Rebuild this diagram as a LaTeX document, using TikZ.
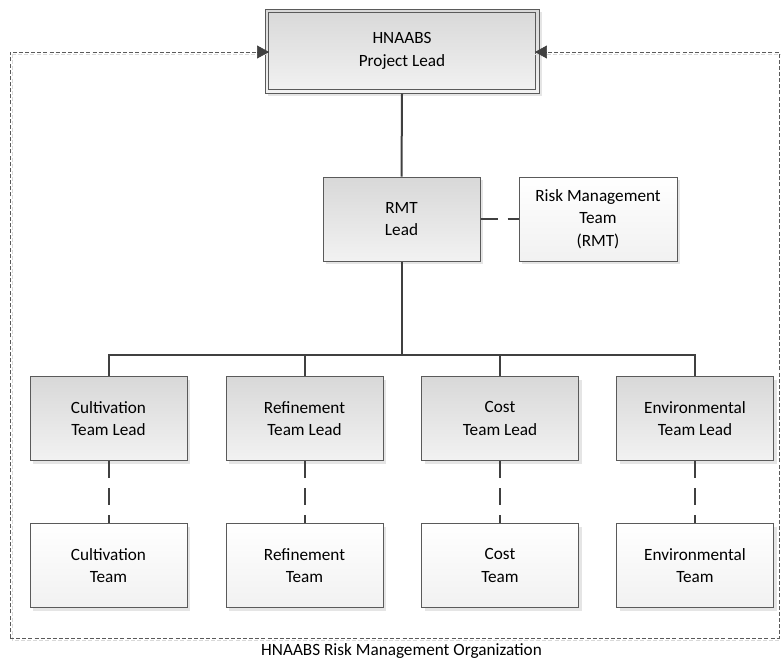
\documentclass[tikz,border=0pt]{standalone}
\usepackage{fontspec}
\setmainfont{Carlito}
\usetikzlibrary{shadows,arrows.meta}
\definecolor{bordergray}{HTML}{5A5A5A}
\definecolor{linegray}{HTML}{404040}
\definecolor{leadtop}{HTML}{D8D8D8}
\definecolor{leadbot}{HTML}{F2F2F2}
\definecolor{teamtop}{HTML}{FFFFFF}
\definecolor{teambot}{HTML}{F1F1F1}
\tikzset{
  boxbase/.style={draw=bordergray, line width=0.75pt, align=center,
    font=\fontsize{12.9pt}{17pt}\selectfont, inner sep=0pt,
    minimum height=63pt,
    drop shadow={shadow xshift=2.25pt, shadow yshift=-2.25pt, opacity=1, fill=black!10}},
  leadbox/.style={boxbase, top color=leadtop, bottom color=leadbot, minimum width=117.75pt},
  teambox/.style={boxbase, top color=teamtop, bottom color=teambot, minimum width=117.75pt},
  solidlink/.style={draw=linegray, line width=1.5pt},
  dashlink/.style={draw=linegray, line width=1.5pt, dash pattern=on 12.75pt off 7.5pt},
  framelink/.style={draw=bordergray, line width=0.75pt, dash pattern=on 3pt off 1.6pt},
  frameshadow/.style={draw=black!15, line width=0.75pt, dash pattern=on 3pt off 1.6pt},
  tip/.style={-{Triangle[length=9pt, width=9.75pt]}, color=linegray}
}
\begin{document}
\begin{tikzpicture}[x=0.75pt, y=-0.75pt]
\useasboundingbox (0,0) rectangle (781,661);

% frame corners
\coordinate (ftl) at (10,52);
\coordinate (fbl) at (10,638);
\coordinate (fbr) at (779,638);
\coordinate (ftr) at (779,52);

% project lead
\node[leadbox, minimum width=205.5pt] (pl) at (402,51) {HNAABS\\Project Lead};
\draw[draw=bordergray, line width=0.75pt] ([xshift=3pt, yshift=-3pt]pl.north west) rectangle ([xshift=-3pt, yshift=3pt]pl.south east);
\coordinate (plw) at ([xshift=3.4pt]pl.west);
\coordinate (ple) at ([xshift=-3.4pt]pl.east);

% frame shadow
\draw[frameshadow] ([shift={(2,2)}]ftl) -- ([shift={(2,2)}]fbl) -- ([shift={(2,2)}]fbr) -- ([shift={(2,2)}]ftr) -- ([shift={(0,2)}]ftr -| ple);
\draw[frameshadow] ([shift={(2,2)}]ftl) -- ([shift={(0,2)}]ftl -| plw);
% frame
\draw[framelink] (fbl) -- (ftl) -- (ftl -| plw);
\draw[tip] ([xshift=-1pt]ftl -| plw) -- (ftl -| plw);
\draw[framelink] (fbl) -- (fbr) -- (ftr) -- (ftr -| ple);
\draw[tip] ([xshift=1pt]ftr -| ple) -- (ftr -| ple);

% RMT
\node[leadbox] (rmt) at (401.5,219) {RMT\\Lead};
\node[teambox, minimum width=118.5pt] (rmtteam) at (598,219) {Risk Management\\Team\\(RMT)};

% leads
\node[leadbox] (cl) at (108.5,418.5) {Cultivation\\Team Lead};
\node[leadbox] (rl) at (304.5,418.5) {Refinement\\Team Lead};
\node[leadbox] (col) at (500,418.5) {Cost\\Team Lead};
\node[leadbox] (el) at (695,418.5) {Environmental\\Team Lead};

% teams
\node[teambox] (ct) at (108.5,565.5) {Cultivation\\Team};
\node[teambox] (rt) at (304.5,565.5) {Refinement\\Team};
\node[teambox] (cot) at (500,565.5) {Cost\\Team};
\node[teambox] (et) at (695,565.5) {Environmental\\Team};

% connectors
\draw[solidlink] (pl.south) -- (rmt.north);
\draw[dashlink] (rmt.east) -- (rmtteam.west);
\coordinate (bus) at (401.5,355);
\draw[solidlink] (rmt.south) -- (bus);
\draw[solidlink] (cl.north) |- (bus) -| (el.north);
\draw[solidlink] (rl.north) -- (rl.north |- bus);
\draw[solidlink] (col.north) -- (col.north |- bus);
\draw[dashlink] (cl.south) -- (ct.north);
\draw[dashlink] (rl.south) -- (rt.north);
\draw[dashlink] (col.south) -- (cot.north);
\draw[dashlink] (el.south) -- (et.north);

% caption
\node[font=\fontsize{12.9pt}{17pt}\selectfont, inner sep=0pt] (cap) at (401.5,651) {HNAABS Risk Management Organization};
\end{tikzpicture}
\end{document}
